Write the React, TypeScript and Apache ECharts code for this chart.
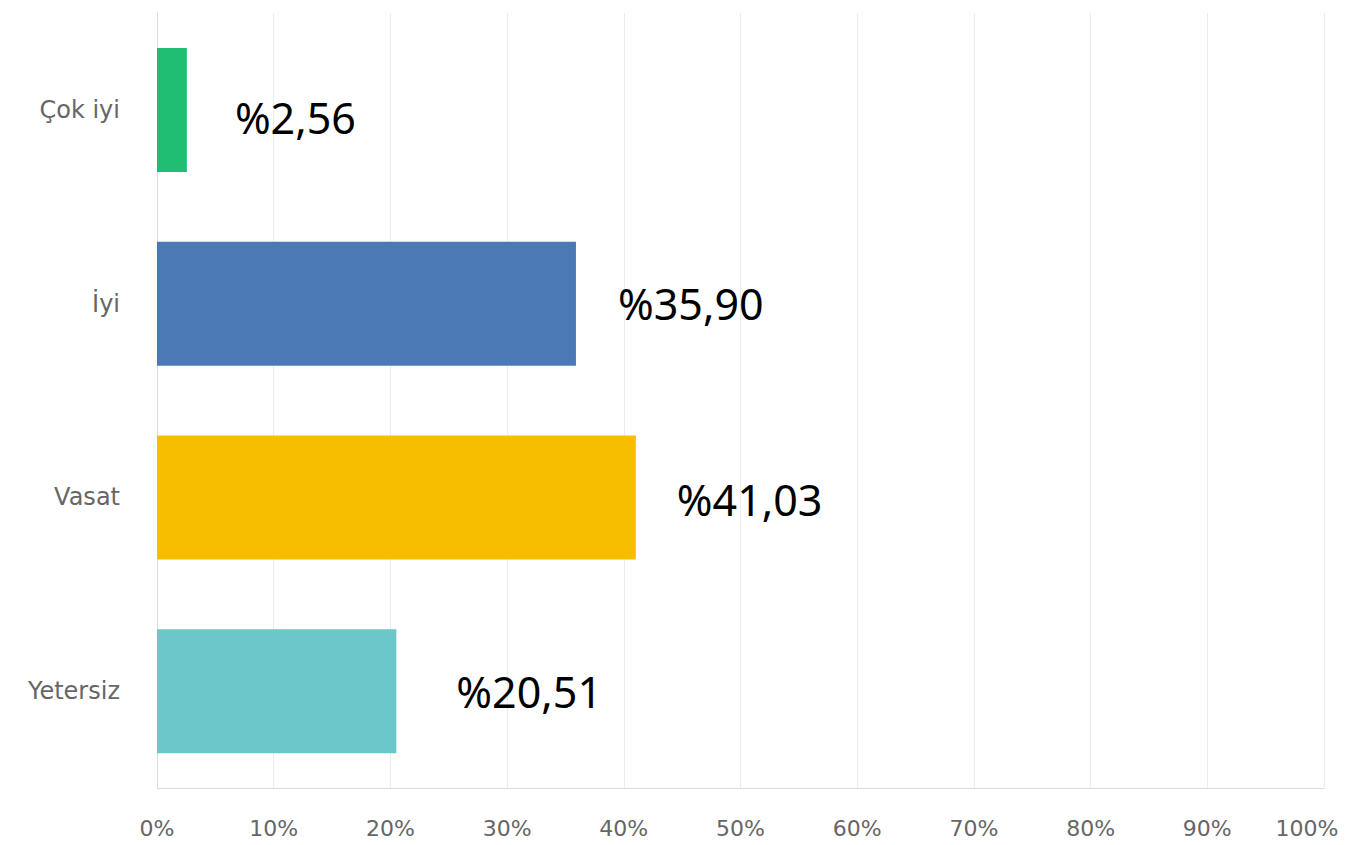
import React, { useEffect, useRef } from "react";
import * as echarts from "echarts";

const categories = ["Çok iyi", "İyi", "Vasat", "Yetersiz"];
const values = [2.56, 35.9, 41.03, 20.51];
const colors = ["#20BE72", "#4B79B5", "#F7BE00", "#6CC7CB"];
const labelGaps = [48, 42, 41, 60];
const labelShiftY = [8, 0, 2, 0];
const xTicks = [0, 10, 20, 30, 40, 50, 60, 70, 80, 90, 100];

export default function App() {
  const ref = useRef<HTMLDivElement>(null);
  useEffect(() => {
    if (!ref.current) return;
    const chart = echarts.init(ref.current, undefined, { renderer: "svg" });
    const tickStyle = {
      color: "#666666",
      fontSize: 22,
      fontFamily: "DejaVu Sans",
    };
    chart.setOption({
      animation: false,
      backgroundColor: "#ffffff",
      grid: {
        left: 157,
        right: 25,
        top: 13,
        bottom: 57,
        containLabel: false,
        outerBoundsMode: "none",
      },
      xAxis: {
        type: "value",
        min: xTicks[0],
        max: xTicks[xTicks.length - 1],
        interval: 10,
        axisLine: { show: true, lineStyle: { color: "#dcdcdc", width: 1 } },
        axisTick: { show: false },
        splitLine: { show: true, lineStyle: { color: "#ececec", width: 1 } },
        axisLabel: {
          formatter: (v: number) =>
            v === xTicks[xTicks.length - 1] ? "{last|" + v + "%}" : v + "%",
          ...tickStyle,
          margin: 29,
          rich: {
            last: { ...tickStyle, padding: [0, 34, 0, 0] },
          },
        },
      },
      yAxis: {
        type: "category",
        inverse: true,
        data: categories,
        axisLine: { show: true, lineStyle: { color: "#dcdcdc", width: 1 } },
        axisTick: { show: false },
        axisLabel: {
          color: "#666666",
          fontSize: 24,
          fontFamily: "DejaVu Sans",
          margin: 37,
        },
      },
      series: [
        {
          type: "bar",
          barCategoryGap: "36%",
          data: values.map((v, i) => ({
            value: v,
            itemStyle: { color: colors[i] },
            label: { distance: labelGaps[i], offset: [0, labelShiftY[i]] },
          })),
          label: {
            show: true,
            position: "right",
            color: "#000000",
            fontSize: 43,
            fontFamily: "Noto Sans",
            formatter: (p: any) => "%" + Number(p.value).toFixed(2).replace(".", ","),
          },
        },
      ],
    });
    return () => chart.dispose();
  }, []);
  return (
    <div
      ref={ref}
      style={{ position: "fixed", left: 0, top: 0, width: 1349, height: 845 }}
    />
  );
}
